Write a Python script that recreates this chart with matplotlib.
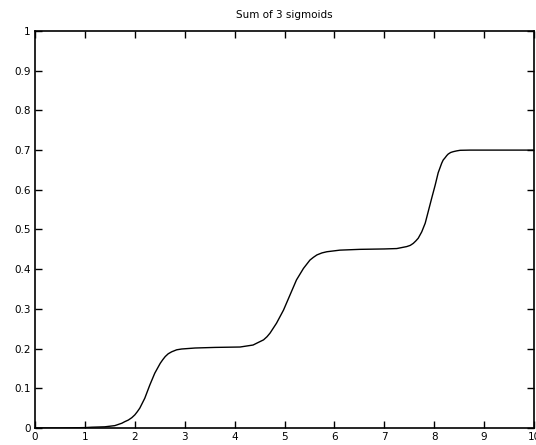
import matplotlib
matplotlib.use("Agg")
import matplotlib.pyplot as plt

plt.rcParams['font.family'] = ['DejaVu Sans']

x_vals = [0, 0.5, 1.0, 1.14, 1.40, 1.60, 1.74, 1.80, 1.87, 1.94, 2.00, 2.05, 2.10, 2.20,
          2.30, 2.40, 2.51, 2.56, 2.61, 2.67, 2.74, 2.84, 2.94, 3.21, 3.61, 4.11, 4.37,
          4.45, 4.58, 4.65, 4.71, 4.84, 4.98, 5.11, 5.24, 5.38, 5.51, 5.58, 5.65, 5.75,
          5.85, 5.98, 6.11, 6.51, 7.0, 7.25, 7.45, 7.52, 7.58, 7.63, 7.68, 7.75, 7.82,
          7.88, 7.95, 8.02, 8.08, 8.15, 8.18, 8.22, 8.25, 8.28, 8.33, 8.38, 8.45, 8.52,
          8.72, 9.0, 9.5, 10.0]
y_vals = [0, 0, 0.001, 0.002, 0.003, 0.006, 0.012, 0.016, 0.020, 0.026, 0.033, 0.041,
          0.050, 0.075, 0.108, 0.138, 0.163, 0.172, 0.180, 0.187, 0.192, 0.197, 0.199,
          0.2015, 0.203, 0.204, 0.209, 0.214, 0.222, 0.230, 0.239, 0.264, 0.297, 0.335,
          0.373, 0.402, 0.423, 0.430, 0.436, 0.441, 0.444, 0.446, 0.448, 0.450, 0.451,
          0.452, 0.457, 0.460, 0.465, 0.471, 0.478, 0.494, 0.516, 0.545, 0.579, 0.612,
          0.643, 0.667, 0.675, 0.681, 0.686, 0.690, 0.694, 0.696, 0.698, 0.6995, 0.700,
          0.700, 0.700, 0.700]

x_ticks = [0, 1, 2, 3, 4, 5, 6, 7, 8, 9, 10]
y_ticks = [0, 0.1, 0.2, 0.3, 0.4, 0.5, 0.6, 0.7, 0.8, 0.9, 1]
y_tick_labels = ['0', '0.1', '0.2', '0.3', '0.4', '0.5', '0.6', '0.7', '0.8', '0.9', '1']
title = 'Sum of 3 sigmoids'

fig = plt.figure(figsize=(5.36, 4.45), dpi=100)
ax = fig.add_axes([35/536, 17/445, 499/536, 397/445])
ax.plot(x_vals, y_vals, color='black', linewidth=1.0)
ax.set_xlim(0, 10)
ax.set_ylim(0, 1)
ax.set_xticks(x_ticks)
ax.set_xticklabels([str(t) for t in x_ticks])
ax.set_yticks(y_ticks)
ax.set_yticklabels(y_tick_labels)
ax.tick_params(direction='in', length=5, width=1, top=True, right=True,
               labelsize=7.5, pad=3, color='black')
for s in ax.spines.values():
    s.set_linewidth(1.2)
    s.set_color('black')
ax.set_title(title, fontsize=7.5, pad=9)
fig.savefig('out.png', dpi=100)
